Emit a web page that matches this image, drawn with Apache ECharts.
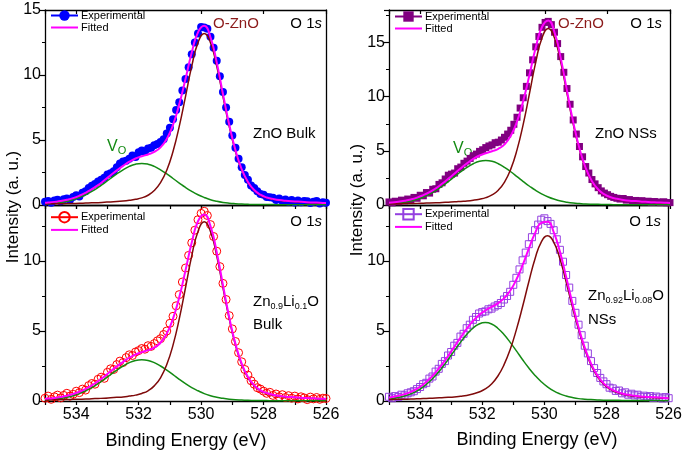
<!DOCTYPE html>
<html><head><meta charset="utf-8">
<script src="https://cdn.jsdelivr.net/npm/echarts@6/dist/echarts.min.js"></script>
<style>html,body{margin:0;padding:0;background:#fff}#c{width:685px;height:452px}</style>
</head><body><div id="c"></div>
<script>
// Binding energies (eV)
const expEnergy = [535,534.9,534.8,534.7,534.6,534.5,534.4,534.3,534.2,534.1,
534,533.9,533.8,533.7,533.6,533.5,533.4,533.3,533.2,533.1,
533,532.9,532.8,532.7,532.6,532.5,532.4,532.3,532.2,532.1,
532,531.9,531.8,531.7,531.6,531.5,531.4,531.3,531.2,531.1,
531,530.9,530.8,530.7,530.6,530.5,530.4,530.3,530.2,530.1,
530,529.9,529.8,529.7,529.6,529.5,529.4,529.3,529.2,529.1,
529,528.9,528.8,528.7,528.6,528.5,528.4,528.3,528.2,528.1,
528,527.9,527.8,527.7,527.6,527.5,527.4,527.3,527.2,527.1,
527,526.9,526.8,526.7,526.6,526.5,526.4,526.3,526.2,526.1,
526];
const curveEnergy = [535,534.9,534.7,534.5,534.3,534.1,533.9,533.7,533.5,533.3,533.1,532.9,532.7,532.5,532.3,532.1,
531.9,531.7,531.5,531.3,531.1,530.9,530.7,530.5,530.3,530.1,529.9,529.7,529.5,529.3,529.1,528.9,528.7,528.5,528.3,528.1,
527.9,527.7,527.5,527.3,527.1,526.9,526.7,526.5,526.3,526.1,526];

// ZnO Bulk (top-left)
const tlExp = [.25,.30,.18,.35,.40,.28,.45,.50,.38,.62,
.75,.66,.95,1.05,1.30,1.48,1.62,1.80,1.95,2.10,
2.35,2.45,2.60,2.90,3.20,3.35,3.40,3.55,3.80,3.70,
4.05,4.20,4.10,4.35,4.40,4.60,4.70,4.85,5.05,5.50,
5.95,6.60,7.30,7.90,8.80,9.70,10.60,11.60,12.50,13.20,
13.70,13.65,13.55,12.95,12.10,11.10,9.90,8.70,7.50,6.40,
5.35,4.40,3.55,2.90,2.30,1.95,1.50,1.30,1.05,.85,
.78,.62,.60,.55,.38,.50,.30,.42,.25,.38,
.20,.35,.22,.30,.28,.15,.25,.30,.12,.22,
.18];
const tlFit = [.17,.19,.24,.30,.40,.53,.71,.94,1.22,1.53,1.90,2.28,2.66,3.01,3.33,3.58,
3.75,3.89,4.08,4.43,5.08,6.16,7.74,9.69,11.73,13.28,13.78,12.90,10.97,8.54,6.19,4.22,2.75,1.77,1.15,.79,
.58,.47,.38,.32,.28,.26,.23,.20,.19,.16,.15];
const tlOZnO = [.08,.09,.10,.10,.11,.12,.13,.15,.17,.18,.21,.24,.26,.30,.36,.44,
.55,.75,1.11,1.72,2.68,4.12,6.05,8.34,10.68,12.49,13.2,12.49,10.68,8.34,6.05,4.12,2.68,1.72,1.11,.75,
.55,.44,.36,.30,.26,.24,.21,.18,.17,.15,.14];
const tlVo = [.09,.10,.14,.20,.29,.41,.58,.79,1.05,1.35,1.69,2.04,2.40,2.71,2.97,3.14,
3.2,3.14,2.97,2.71,2.40,2.04,1.69,1.35,1.05,.79,.58,.41,.29,.20,.14,.10,.07,.05,.04,.04,
.03,.03,.02,.02,.02,.02,.02,.02,.02,.01,.01];

// Zn0.9Li0.1O Bulk (bottom-left)
const blExp = [.20,.35,.12,.30,.42,.22,.40,.55,.35,.48,
.70,.60,.85,.78,1.10,1.25,1.20,1.55,1.70,1.62,
2.05,2.30,2.25,2.60,2.85,2.75,3.10,3.30,3.25,3.50,
3.60,3.75,3.70,3.95,3.90,4.10,4.30,4.45,4.75,5.00,
5.55,6.05,6.80,7.60,8.50,9.50,10.40,11.30,12.20,12.95,
13.40,13.55,13.25,12.60,11.75,10.70,9.60,8.40,7.25,6.10,
5.15,4.25,3.45,2.80,2.25,1.85,1.45,1.20,.95,.85,
.70,.55,.62,.40,.50,.30,.45,.25,.38,.20,
.35,.15,.30,.22,.10,.28,.15,.25,.12,.20,
.18];
const blFit = [.16,.17,.22,.29,.38,.50,.66,.87,1.12,1.42,1.75,2.12,2.47,2.79,3.09,3.32,
3.49,3.63,3.82,4.16,4.81,5.88,7.41,9.33,11.32,12.84,13.33,12.49,10.63,8.28,5.99,4.08,2.67,1.71,1.12,.76,
.57,.44,.37,.31,.28,.25,.22,.20,.18,.16,.16];
const blOZnO = [.08,.08,.09,.10,.11,.12,.13,.14,.16,.18,.20,.23,.26,.29,.35,.42,
.54,.73,1.08,1.66,2.60,3.99,5.86,8.09,10.36,12.11,12.8,12.11,10.36,8.09,5.86,3.99,2.60,1.66,1.08,.73,
.54,.42,.35,.29,.26,.23,.20,.18,.16,.14,.14];
const blVo = [.08,.09,.13,.19,.27,.38,.53,.73,.96,1.24,1.55,1.89,2.21,2.50,2.74,2.90,
2.95,2.90,2.74,2.50,2.21,1.89,1.55,1.24,.96,.73,.53,.38,.27,.19,.13,.09,.07,.05,.04,.03,
.03,.02,.02,.02,.02,.02,.02,.02,.02,.01,.01];

// ZnO NSs (top-right)
const trExp = [.28,.20,.35,.30,.45,.38,.55,.48,.70,.62,
.90,.85,1.15,1.10,1.45,1.50,1.90,2.05,2.40,2.75,
2.85,2.95,3.35,3.50,3.85,4.05,4.30,4.55,4.70,4.95,
5.10,5.30,5.45,5.55,5.75,5.80,6.00,6.25,6.55,6.90,
7.45,8.10,8.95,9.90,10.95,12.20,13.40,14.60,15.55,16.40,
16.85,16.95,16.65,15.95,14.90,13.70,12.25,10.75,9.30,7.85,
6.55,5.40,4.45,3.55,2.95,2.35,1.95,1.60,1.30,1.10,
.95,.80,.70,.62,.55,.60,.45,.50,.40,.42,
.35,.40,.30,.35,.25,.32,.28,.22,.30,.20,
.22];
const trFit = [.21,.24,.30,.39,.51,.68,.91,1.19,1.54,1.96,2.42,2.91,3.40,3.85,4.25,4.57,
4.78,4.96,5.18,5.60,6.38,7.71,9.63,12.03,14.53,16.43,17.04,15.95,13.56,10.56,7.65,5.22,3.40,2.19,1.43,.98,
.72,.57,.47,.40,.36,.31,.28,.25,.22,.20,.19];
const trOZnO = [.10,.11,.12,.13,.14,.15,.17,.18,.20,.23,.26,.29,.33,.37,.44,.54,
.68,.93,1.37,2.12,3.31,5.09,7.47,10.30,13.19,15.42,16.3,15.42,13.19,10.30,7.47,5.09,3.31,2.12,1.37,.93,
.68,.54,.44,.37,.33,.29,.26,.23,.20,.18,.17];
const trVo = [.11,.13,.18,.26,.37,.53,.74,1.01,1.34,1.73,2.16,2.62,3.07,3.48,3.81,4.03,
4.1,4.03,3.81,3.48,3.07,2.62,2.16,1.73,1.34,1.01,.74,.53,.37,.26,.18,.13,.09,.07,.06,.05,
.04,.03,.03,.03,.03,.02,.02,.02,.02,.02,.02];

// Zn0.92Li0.08O NSs (bottom-right)
const brExp = [.30,.20,.35,.28,.45,.40,.55,.62,.70,.85,
1.00,1.20,1.30,1.60,1.75,2.10,2.30,2.65,2.85,3.25,
3.50,3.95,4.15,4.60,4.80,5.20,5.45,5.80,6.00,6.25,
6.35,6.40,6.55,6.60,6.75,6.85,7.00,7.25,7.50,7.80,
8.30,8.80,9.40,10.05,10.60,11.20,11.70,12.20,12.60,12.95,
13.05,12.85,12.65,12.20,11.55,10.80,9.95,9.00,8.10,7.15,
6.30,5.45,4.70,3.95,3.40,2.85,2.35,2.00,1.65,1.40,
1.20,.95,.90,.72,.75,.55,.62,.45,.52,.40,
.45,.30,.38,.28,.35,.22,.32,.25,.18,.28,
.20];
const brFit = [.25,.28,.37,.49,.65,.88,1.18,1.57,2.05,2.60,3.21,3.87,4.53,5.15,5.70,6.14,
6.46,6.72,6.97,7.33,7.87,8.68,9.70,10.88,11.99,12.73,12.81,12.07,10.67,8.88,7.00,5.27,3.81,2.68,1.85,1.28,
.91,.69,.54,.44,.38,.32,.29,.27,.25,.21,.20];
const brOZnO = [.10,.11,.12,.13,.14,.16,.17,.19,.22,.24,.26,.29,.34,.40,.50,.64,
.86,1.22,1.77,2.58,3.68,5.10,6.75,8.52,10.16,11.35,11.80,11.35,10.16,8.52,6.75,5.10,3.68,2.58,1.77,1.22,
.86,.64,.50,.40,.34,.29,.26,.24,.22,.19,.18];
const brVo = [.15,.17,.25,.36,.51,.72,1.01,1.38,1.83,2.36,2.95,3.58,4.19,4.75,5.20,5.50,
5.6,5.50,5.20,4.75,4.19,3.58,2.95,2.36,1.83,1.38,1.01,.72,.51,.36,.25,.17,.13,.10,.08,.06,
.05,.05,.04,.04,.04,.03,.03,.03,.03,.02,.02];

const yMax = [15, 14, 18, 14];
const xTickLabels = [534, 532, 530, 528, 526];

const FONT = "'Liberation Sans', Arial, Helvetica, sans-serif";
const zip = (xs, ys) => xs.map((x, i) => [x, ys[i]]);

const panels = [
  {exp: tlExp, fit: tlFit, o: tlOZnO, v: tlVo, color: '#0000ff', symbol: 'circle', open: false, size: 8},
  {exp: blExp, fit: blFit, o: blOZnO, v: blVo, color: '#ff0000', symbol: 'circle', open: true, size: 8},
  {exp: trExp, fit: trFit, o: trOZnO, v: trVo, color: '#800080', symbol: 'rect', open: false, size: 7},
  {exp: brExp, fit: brFit, o: brOZnO, v: brVo, color: '#9440e0', symbol: 'rect', open: true, size: 7}
];
const grids = [
  {left: 45, top: 10, width: 281, height: 195},
  {left: 45, top: 205, width: 281, height: 196},
  {left: 389, top: 10, width: 281, height: 195},
  {left: 389, top: 205, width: 281, height: 196}
];
const legendPos = [[50, 10], [50, 211], [394, 11], [394, 208]];

const axisLine = {show: true, onZero: false, lineStyle: {color: '#000', width: 1.3}};
const xAxis = [], yAxis = [], series = [], legend = [];
panels.forEach((p, i) => {
  const bottomPanel = (i === 1 || i === 3);
  xAxis.push({gridIndex: i, type: 'value', min: 526, max: 535, inverse: true, interval: 1,
    axisLine, axisTick: {show: true, length: 4, lineStyle: {color: '#000', width: 1.2}},
    axisLabel: {show: bottomPanel, color: '#000', fontSize: 16, fontFamily: FONT, margin: 6,
      formatter: v => xTickLabels.includes(v) ? String(v) : ''},
    splitLine: {show: false}});
  xAxis.push({gridIndex: i, type: 'value', position: 'top', min: 526, max: 535, inverse: true, interval: 2,
    axisLine, axisTick: {show: true, inside: true, length: 4, lineStyle: {color: '#000', width: 1.2}},
    axisLabel: {show: false}, splitLine: {show: false}});
  yAxis.push({gridIndex: i, type: 'value', min: 0, max: yMax[i], interval: 5,
    axisLine, axisTick: {show: true, length: 5, lineStyle: {color: '#000', width: 1.2}},
    minorTick: {show: true, splitNumber: 2, length: 3, lineStyle: {color: '#000', width: 1}},
    axisLabel: {color: '#000', fontSize: 16, fontFamily: FONT, margin: 4,
      formatter: v => (v % 5 === 0 ? String(v) : '')},
    splitLine: {show: false}});
  yAxis.push({gridIndex: i, type: 'value', position: 'right', min: 0, max: yMax[i],
    axisLine, axisTick: {show: false}, axisLabel: {show: false}, splitLine: {show: false}});
  const xi = 2 * i, yi = 2 * i;
  const itemStyle = p.open
    ? {color: 'rgba(0,0,0,0)', borderColor: p.color, borderWidth: 1}
    : {color: p.color, borderColor: p.color, borderWidth: 0};
  series.push({name: 'Experimental#' + i, type: 'line', xAxisIndex: xi, yAxisIndex: yi,
    data: zip(expEnergy, p.exp), symbol: p.symbol, symbolSize: p.size, showSymbol: true,
    lineStyle: {width: 0, opacity: 0}, itemStyle, z: 2, animation: false, silent: true});
  series.push({name: 'Vo#' + i, type: 'line', xAxisIndex: xi, yAxisIndex: yi,
    data: zip(curveEnergy, p.v), smooth: true, symbol: 'none',
    lineStyle: {color: '#138a13', width: 1.5}, z: 3, animation: false, silent: true});
  series.push({name: 'OZnO#' + i, type: 'line', xAxisIndex: xi, yAxisIndex: yi,
    data: zip(curveEnergy, p.o), smooth: true, symbol: 'none',
    lineStyle: {color: '#7f0a0a', width: 1.5}, z: 3, animation: false, silent: true});
  series.push({name: 'Fitted#' + i, type: 'line', xAxisIndex: xi, yAxisIndex: yi,
    data: zip(curveEnergy, p.fit), smooth: true, symbol: 'none',
    itemStyle: {color: '#ff00ff'},
    lineStyle: {color: '#ff00ff', width: 2}, z: 4, animation: false, silent: true});
  legend.push({left: legendPos[i][0], top: legendPos[i][1], orient: 'vertical', padding: 0,
    itemWidth: 27, itemHeight: 13, itemGap: 1, selectedMode: false,
    textStyle: {fontSize: 11, color: '#000', fontFamily: FONT, padding: [0, 0, 0, -2]},
    formatter: n => n.split('#')[0],
    data: [
      {name: 'Experimental#' + i, lineStyle: {color: p.color, width: 2, opacity: 1}},
      {name: 'Fitted#' + i, lineStyle: {color: '#ff00ff', width: 2, opacity: 1},
       itemStyle: {opacity: 0, borderWidth: 0}}
    ]});
});

const T = (x, y, text, o = {}) => ({type: 'text', x, y, silent: true, rotation: o.rot || 0,
  style: Object.assign({text, fill: o.fill || '#000', fontSize: o.size || 15, fontFamily: FONT,
    textAlign: o.align || 'left', textVerticalAlign: 'middle'}, o.rich ? {rich: o.rich} : {})});
const o1s = {n: {fontSize: 15, fontFamily: FONT, fill: '#000'}, i: {fontSize: 15, fontFamily: FONT, fontStyle: 'italic', fill: '#000'}};
const subRich = {a: {fontSize: 15, fontFamily: FONT, fill: '#000', lineHeight: 18},
  b: {fontSize: 9, fontFamily: FONT, fill: '#000', lineHeight: 5, verticalAlign: 'bottom'}};
const voRich = {a: {fontSize: 16, fontFamily: FONT, fill: '#138a13', lineHeight: 18},
  b: {fontSize: 11, fontFamily: FONT, fill: '#138a13', lineHeight: 6, verticalAlign: 'bottom'}};
const graphic = [
  T(213, 24, 'O-ZnO', {fill: '#8b1a1a'}),
  T(322, 24, '{n|O 1}{i|s}', {align: 'right', rich: o1s}),
  T(253, 134, 'ZnO Bulk'),
  T(107, 147, '{a|V}{b|O}', {rich: voRich}),
  T(322, 222, '{n|O 1}{i|s}', {align: 'right', rich: o1s}),
  T(253, 302, '{a|Zn}{b|0.9}{a|Li}{b|0.1}{a|O}', {rich: subRich}),
  T(253, 325, 'Bulk'),
  T(558, 24, 'O-ZnO', {fill: '#8b1a1a'}),
  T(662, 24, '{n|O 1}{i|s}', {align: 'right', rich: o1s}),
  T(595, 134, 'ZnO NSs'),
  T(453, 149, '{a|V}{b|O}', {rich: voRich}),
  T(661, 222, '{n|O 1}{i|s}', {align: 'right', rich: o1s}),
  T(588, 296, '{a|Zn}{b|0.92}{a|Li}{b|0.08}{a|O}', {rich: subRich}),
  T(588, 320, 'NSs'),
  T(186, 441, 'Binding Energy (eV)', {align: 'center', size: 18}),
  T(537, 440, 'Binding Energy (eV)', {align: 'center', size: 18}),
  T(13, 207, 'Intensity (a. u.)', {align: 'center', size: 17, rot: Math.PI / 2}),
  T(357, 200, 'Intensity (a. u.)', {align: 'center', size: 17, rot: Math.PI / 2})
];

const chart = echarts.init(document.getElementById('c'), null, {renderer: 'canvas'});
chart.setOption({animation: false, backgroundColor: '#fff',
  grid: grids, xAxis, yAxis, series, legend, graphic});
</script></body></html>
